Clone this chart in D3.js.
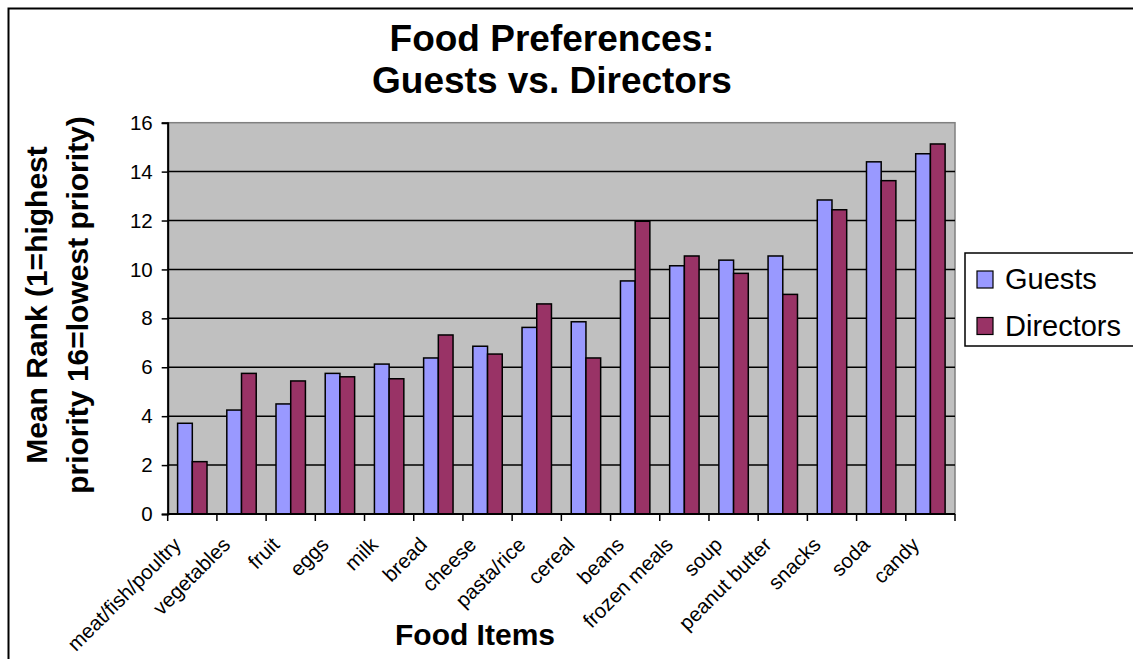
<!DOCTYPE html>
<html>
<head>
<meta charset="utf-8">
<script src="https://cdn.jsdelivr.net/npm/d3@7"></script>
<style>
  html, body { margin: 0; padding: 0; background: #ffffff; }
  svg { display: block; font-family: "Liberation Sans", Arial, sans-serif; }
</style>
</head>
<body>
<svg id="chart" width="1133" height="659"></svg>
<script>
// Food items, in chart order
const categories = [
  "meat/fish/poultry", "vegetables", "fruit", "eggs", "milk", "bread",
  "cheese", "pasta/rice", "cereal", "beans", "frozen meals", "soup",
  "peanut butter", "snacks", "soda", "candy"
];

// Mean rank per item (1 = highest priority, 16 = lowest)
const guests = [3.71, 4.25, 4.50, 5.75, 6.13, 6.38, 6.86, 7.63, 7.86, 9.53, 10.15, 10.38, 10.55, 12.84, 14.40, 14.73];
const directors = [2.14, 5.75, 5.44, 5.61, 5.53, 7.32, 6.54, 8.59, 6.38, 11.97, 10.55, 9.84, 8.98, 12.44, 13.63, 15.13];

const seriesNames = ["Guests", "Directors"];
const seriesColors = ["#9999FF", "#993366"];
const yTicks = [0, 2, 4, 6, 8, 10, 12, 14, 16];

const titleLines = ["Food Preferences:", "Guests vs. Directors"];
const yTitleLines = ["Mean Rank (1=highest", "priority 16=lowest priority)"];
const xTitle = "Food Items";

const svg = d3.select("#chart");

// outer chart frame
svg.append("rect")
  .attr("x", 8.5).attr("y", 8.5)
  .attr("width", 1200).attr("height", 700)
  .attr("fill", "#ffffff").attr("stroke", "#000").attr("stroke-width", 2);

const plot = { left: 167.7, right: 955, top: 122.7, bottom: 514 };

const x = d3.scaleBand().domain(categories).range([plot.left, plot.right]).padding(0);
const xs = d3.scaleBand().domain(seriesNames).range([0, x.bandwidth()])
  .paddingInner(0).paddingOuter(0.673);
const y = d3.scaleLinear().domain([0, 16]).range([plot.bottom, plot.top]);

// plot background
svg.append("rect")
  .attr("x", plot.left).attr("y", plot.top)
  .attr("width", plot.right - plot.left).attr("height", plot.bottom - plot.top)
  .attr("fill", "#C0C0C0").attr("stroke", "#808080").attr("stroke-width", 1.5);

// horizontal gridlines
svg.append("g")
  .selectAll("line")
  .data(yTicks.filter(d => d > 0 && d < 16))
  .join("line")
  .attr("x1", plot.left).attr("x2", plot.right)
  .attr("y1", d => y(d)).attr("y2", d => y(d))
  .attr("stroke", "#000").attr("stroke-width", 1.5);

// bars
const rows = categories.map((c, i) => ({ cat: c, values: [guests[i], directors[i]] }));
svg.append("g")
  .selectAll("g")
  .data(rows)
  .join("g")
  .attr("transform", d => `translate(${x(d.cat)},0)`)
  .selectAll("rect")
  .data(d => d.values.map((v, j) => ({ name: seriesNames[j], value: v, color: seriesColors[j] })))
  .join("rect")
  .attr("x", d => xs(d.name))
  .attr("width", xs.bandwidth())
  .attr("y", d => y(d.value))
  .attr("height", d => y(0) - y(d.value))
  .attr("fill", d => d.color)
  .attr("stroke", "#000").attr("stroke-width", 1.5);

// y axis
const yAxis = d3.axisLeft(y).tickValues(yTicks).tickSize(6).tickPadding(9).tickFormat(d3.format("d"));
const gy = svg.append("g").attr("transform", `translate(${plot.left},0)`).call(yAxis);
gy.select(".domain").attr("stroke", "#000").attr("stroke-width", 2);
gy.selectAll(".tick line").attr("stroke", "#000").attr("stroke-width", 1.5);
gy.selectAll(".tick text")
  .attr("font-family", "'Liberation Sans', Arial, sans-serif")
  .attr("font-size", 20.5).attr("fill", "#000");

// x axis: ticks sit between categories
const xAxisLine = svg.append("g");
xAxisLine.append("line")
  .attr("x1", plot.left).attr("x2", plot.right)
  .attr("y1", plot.bottom).attr("y2", plot.bottom)
  .attr("stroke", "#000").attr("stroke-width", 2);
xAxisLine.selectAll("line.tk")
  .data(categories.concat(["_end"]))
  .join("line")
  .attr("class", "tk")
  .attr("x1", (d, i) => i < categories.length ? x(d) : plot.right)
  .attr("x2", (d, i) => i < categories.length ? x(d) : plot.right)
  .attr("y1", plot.bottom).attr("y2", plot.bottom + 7)
  .attr("stroke", "#000").attr("stroke-width", 1.5);

// rotated category labels
svg.append("g")
  .selectAll("text")
  .data(categories)
  .join("text")
  .attr("transform", d => `translate(${x(d) + x.bandwidth() / 2 - 10},546) rotate(-45)`)
  .attr("text-anchor", "end")
  .attr("font-size", 20.5)
  .attr("fill", "#000")
  .text(d => d);

// title
svg.append("g")
  .selectAll("text")
  .data(titleLines)
  .join("text")
  .attr("x", 552).attr("y", (d, i) => 51 + i * 42)
  .attr("text-anchor", "middle")
  .attr("font-size", 37).attr("font-weight", "bold")
  .attr("fill", "#000")
  .text(d => d);

// y axis title
svg.append("g")
  .selectAll("text")
  .data(yTitleLines)
  .join("text")
  .attr("transform", (d, i) => `translate(${47 + i * 41},305) rotate(-90)`)
  .attr("text-anchor", "middle")
  .attr("font-size", 30).attr("font-weight", "bold")
  .attr("fill", "#000")
  .text(d => d);

// x axis title
svg.append("text")
  .attr("x", 475).attr("y", 645)
  .attr("text-anchor", "middle")
  .attr("font-size", 30).attr("font-weight", "bold")
  .attr("fill", "#000")
  .text(xTitle);

// legend
const legend = svg.append("g");
legend.append("rect")
  .attr("x", 965).attr("y", 253)
  .attr("width", 200).attr("height", 93)
  .attr("fill", "#fff").attr("stroke", "#000").attr("stroke-width", 1.5);
const li = legend.selectAll("g.item")
  .data(seriesNames)
  .join("g")
  .attr("class", "item")
  .attr("transform", (d, i) => `translate(977,${271 + i * 46.5})`);
li.append("rect")
  .attr("width", 16).attr("height", 17)
  .attr("fill", (d, i) => seriesColors[i])
  .attr("stroke", "#000").attr("stroke-width", 1.2);
li.append("text")
  .attr("x", 28).attr("y", 18)
  .attr("font-size", 29)
  .attr("fill", "#000")
  .text(d => d);
</script>
</body>
</html>
